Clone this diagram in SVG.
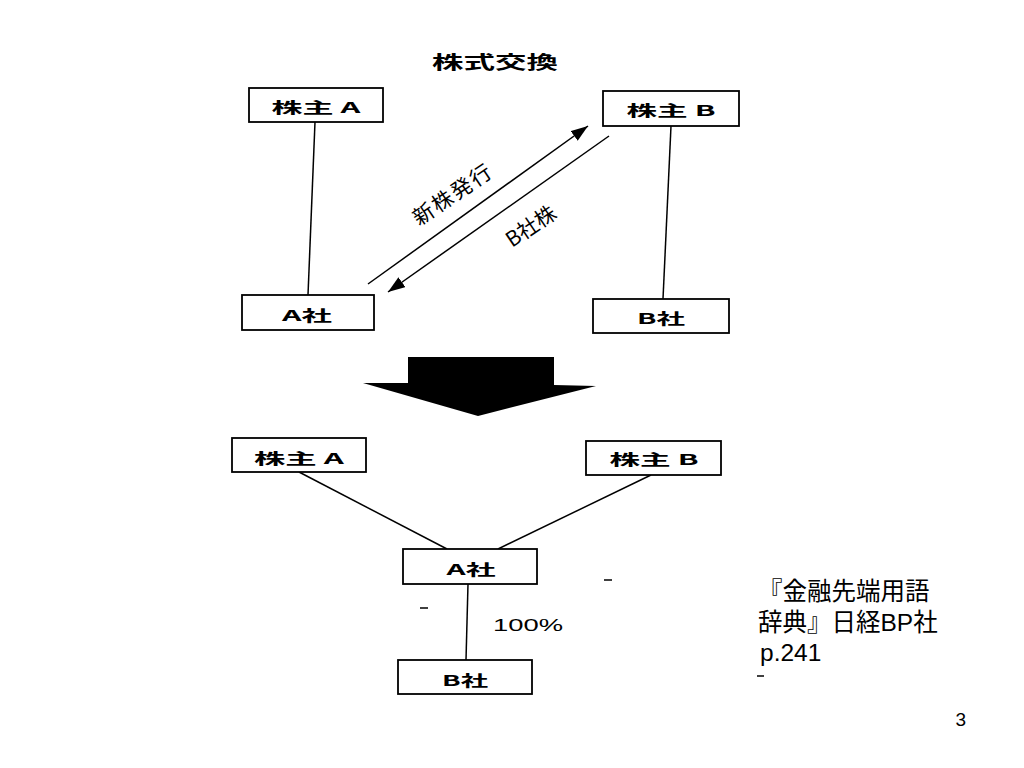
<svg xmlns="http://www.w3.org/2000/svg" width="1024" height="768" viewBox="0 0 1024 768">
<defs>
<style>
.box{fill:#fff;stroke:#000;stroke-width:1.8}
.ln{stroke:#000;stroke-width:1.5;fill:none}
.lbl{font-family:"Noto Sans CJK JP","Liberation Sans",sans-serif;font-weight:bold;font-size:15px;fill:#000;text-anchor:middle;dominant-baseline:central}
.rot{font-family:"Noto Sans CJK JP","Liberation Sans",sans-serif;font-size:21px;fill:#000;text-anchor:middle;dominant-baseline:central}
.cite{font-family:"Liberation Sans","Noto Sans CJK JP",sans-serif;font-size:24.5px;fill:#000}
</style>
<marker id="ah" markerUnits="userSpaceOnUse" markerWidth="18" markerHeight="14" refX="17" refY="6" orient="auto">
<path d="M0,0 L17,6 L0,12 z" fill="#000"/>
</marker>
</defs>
<rect width="1024" height="768" fill="#fff"/>

<text id="title" x="495" y="61" class="lbl" textLength="126" lengthAdjust="spacingAndGlyphs" style="font-size:18px">株式交換</text>

<g id="connectors">
<line class="ln" x1="315" y1="122" x2="308" y2="295"/>
<line class="ln" x1="671" y1="126" x2="663" y2="299"/>
<line class="ln" x1="368" y1="284" x2="588" y2="126" marker-end="url(#ah)"/>
<line class="ln" x1="609" y1="136" x2="388" y2="292" marker-end="url(#ah)"/>
<line class="ln" x1="299" y1="472" x2="447" y2="549"/>
<line class="ln" x1="651" y1="475" x2="498" y2="549"/>
<line class="ln" x1="468" y1="584" x2="466" y2="660"/>
<text class="rot" transform="translate(452,193) rotate(-34)" letter-spacing="2">新株発行</text>
<text class="rot" transform="translate(530,225) rotate(-34)">B社株</text>
<text x="528" y="625" font-family="Liberation Sans, sans-serif" font-size="17" dominant-baseline="central" text-anchor="middle" textLength="70" lengthAdjust="spacingAndGlyphs">100%</text>
</g>

<g id="top-shareholderA"><rect class="box" x="249" y="88" width="134" height="34"/><text class="lbl" x="316" y="106" textLength="89" lengthAdjust="spacingAndGlyphs">株主 A</text></g>
<g id="top-shareholderB"><rect class="box" x="603" y="91" width="136" height="35"/><text class="lbl" x="671" y="109" textLength="89" lengthAdjust="spacingAndGlyphs">株主 B</text></g>
<g id="top-companyA"><rect class="box" x="242" y="295" width="132" height="35"/><text class="lbl" x="307" y="314" textLength="50" lengthAdjust="spacingAndGlyphs">A社</text></g>
<g id="top-companyB"><rect class="box" x="593" y="299" width="136" height="34"/><text class="lbl" x="661" y="317" textLength="48" lengthAdjust="spacingAndGlyphs">B社</text></g>

<g id="big-arrow"><polygon points="408,357 554,357 554,385 596,386 478,416 363,383 408,383" fill="#000"/></g>

<g id="bot-shareholderA"><rect class="box" x="232" y="438" width="134" height="34"/><text class="lbl" x="299" y="457" textLength="90" lengthAdjust="spacingAndGlyphs">株主 A</text></g>
<g id="bot-shareholderB"><rect class="box" x="586" y="441" width="135" height="34"/><text class="lbl" x="654" y="458" textLength="89" lengthAdjust="spacingAndGlyphs">株主 B</text></g>
<g id="bot-companyA"><rect class="box" x="403" y="549" width="134" height="35"/><text class="lbl" x="471" y="568" textLength="49" lengthAdjust="spacingAndGlyphs">A社</text></g>
<g id="bot-companyB"><rect class="box" x="398" y="660" width="134" height="34"/><text class="lbl" x="465" y="679" textLength="46" lengthAdjust="spacingAndGlyphs">B社</text></g>

<g id="specks" stroke="#000" stroke-width="1.5">
<line x1="604" y1="580" x2="612" y2="580"/>
<line x1="420" y1="608" x2="428" y2="608"/>
<line x1="757" y1="676" x2="764" y2="676"/>
</g>

<g id="citation">
<text class="cite" x="758" y="600">『金融先端用語</text>
<text class="cite" x="758" y="631">辞典』日経BP社</text>
<text class="cite" x="760" y="661">p.241</text>
</g>
<text id="page" x="966" y="726" font-family="Liberation Sans, sans-serif" font-size="19" text-anchor="end">3</text>
</svg>
